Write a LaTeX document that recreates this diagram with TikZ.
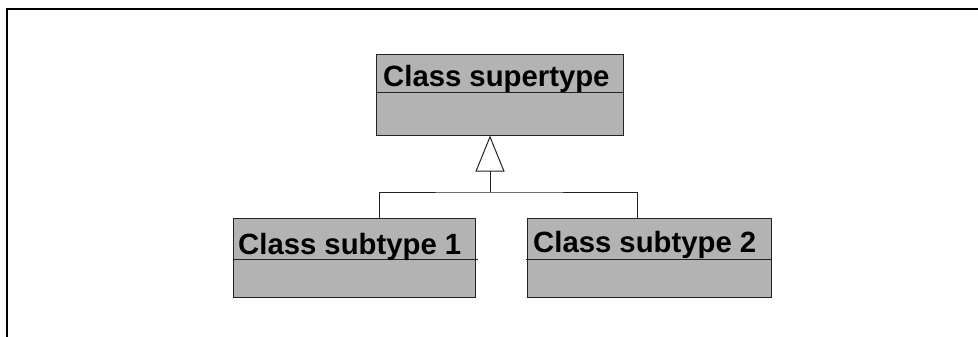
\documentclass[tikz,border=0pt]{standalone}
\usepackage{fontspec}
\setmainfont{Liberation Sans}
\usetikzlibrary{arrows.meta}
\definecolor{boxgray}{RGB}{179,179,179}
\definecolor{edge}{RGB}{34,34,34}

\begin{document}
\begin{tikzpicture}[x=1pt,y=-1pt,
  classbox/.style={draw=edge, fill=boxgray, line width=1pt, inner sep=0pt},
  classname/.style={anchor=base west, inner sep=0pt, font=\fontsize{29.3}{34}\selectfont\bfseries},
  link/.style={draw=edge, line width=1pt}]
\useasboundingbox (0,0) rectangle (978,337);
\draw[black, line width=2pt] (6.7,337) -- (6.7,8.7) -- (978,8.7);

\node[classbox, minimum width=247pt, minimum height=80pt] (super) at (499.5,95) {};
\node[classbox, minimum width=242pt, minimum height=79pt] (sub1) at (354,257.5) {};
\node[classbox, minimum width=244pt, minimum height=79pt] (sub2) at (649,257.5) {};

\draw[link] ([yshift=-38pt]super.north west) -- ([yshift=-38pt]super.north east);
\draw[link] ([yshift=-42pt]sub1.north west) -- ([xshift=2pt,yshift=-42pt]sub1.north east);
\draw[link] ([xshift=-1pt,yshift=-42pt]sub2.north west) -- ([yshift=-42pt]sub2.north east);

\node[classname] (supername) at (383,87) {Class supertype};
\node[classname] (sub1name) at (238,254) {Class subtype 1};
\node[classname] (sub2name) at (533,252) {Class subtype 2};

\coordinate (join) at (490,192);
\draw[link, -{Triangle[open, length=36pt, width=29pt]}] (join) -- (join |- super.south);
\draw[link] ([xshift=25pt]sub1.north) |- (join) -| ([xshift=-12pt]sub2.north);
\end{tikzpicture}
\end{document}
